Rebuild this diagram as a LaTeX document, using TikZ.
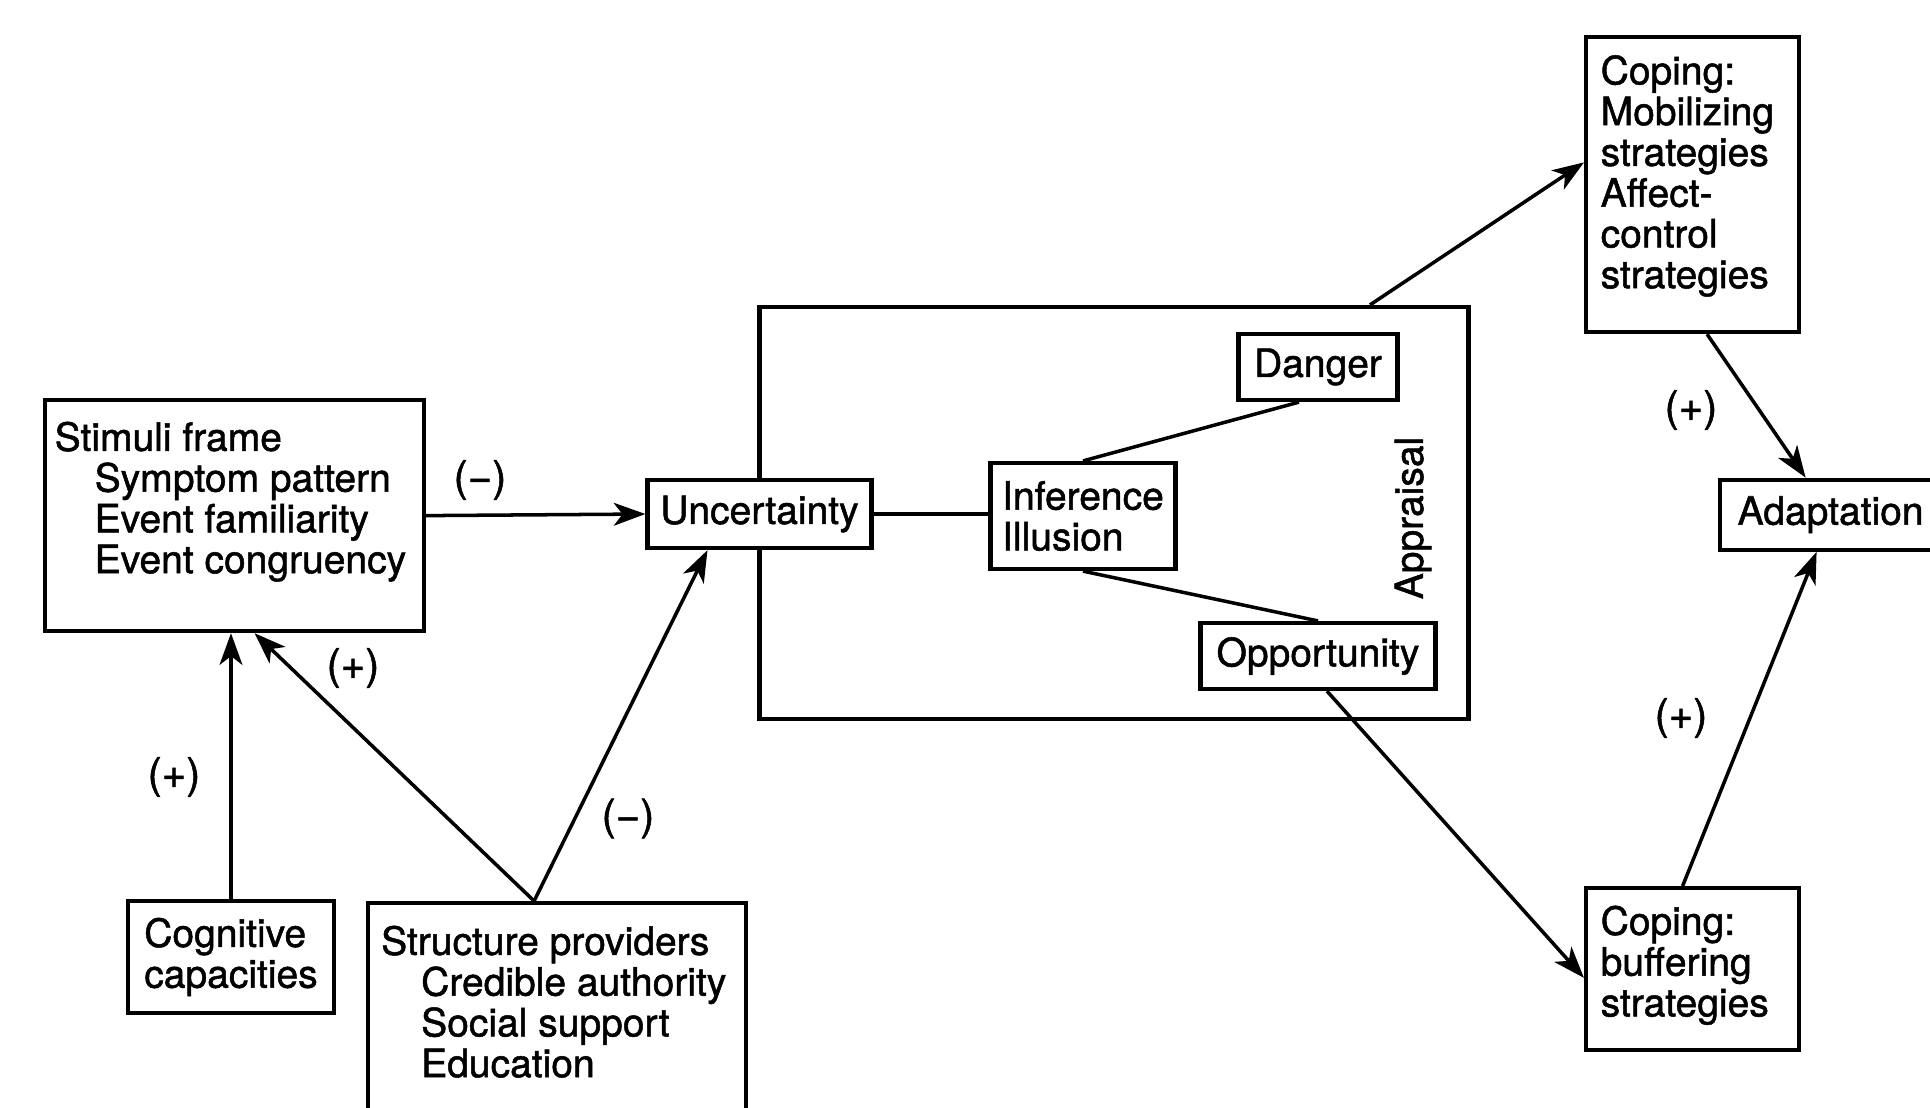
\documentclass[tikz,border=0pt]{standalone}
\usepackage{fontspec}
\setmainfont{TeX Gyre Heros}[FakeBold=1.3]
\usetikzlibrary{arrows.meta}

\tikzset{
    box/.style={draw, line width=1.2pt, fill=white, inner sep=0pt, align=left},
    boxtext/.style={anchor=north west, align=left, inner sep=0pt},
    conn/.style={line width=1pt},
    arr/.style={conn, -{Stealth[length=9pt, width=6.5pt, inset=2.5pt]}},
    sign/.style={font=\fontsize{12}{12}\selectfont}
}

\begin{document}
\begin{tikzpicture}[font=\fontsize{11.1}{11.6}\selectfont]
    \useasboundingbox (0, 0) rectangle (19.3, -11.07);

    % appraisal frame and its inner boxes
    \node [box, minimum width=7.09cm, minimum height=4.12cm] (appr) at (11.14, -5.13) {};
    \node [rotate=90] (apprtxt) at (14.13, -5.18) {Appraisal};
    \node [box, minimum width=2.24cm, minimum height=0.68cm] (unc) at (7.595, -5.14) {Uncertainty};
    \node [box, minimum width=1.85cm, minimum height=1.06cm] (infer) at (10.83, -5.16) {Inference\\Illusion};
    \node [box, minimum width=1.59cm, minimum height=0.66cm] (dang) at (13.18, -3.67) {Danger};
    \node [box, minimum width=2.35cm, minimum height=0.66cm] (oppo) at (13.18, -6.56) {Opportunity};

    \node [box, anchor=north west, minimum width=3.79cm, minimum height=2.31cm] (stim) at (0.43, -3.98) {};
    \node [boxtext] (stimtxt) at ([xshift=0.11cm, yshift=-0.23cm]stim.north west)
        {Stimuli frame\\\hspace*{0.4cm}Symptom pattern\\\hspace*{0.4cm}Event familiarity\\\hspace*{0.4cm}Event congruency};

    \node [box, minimum width=2.06cm, minimum height=1.12cm] (cogn) at (2.31, -9.57) {Cognitive\\capacities};

    \node [box, anchor=north west, minimum width=3.78cm, minimum height=2.6cm] (struct) at (3.66, -9.01) {};
    \node [boxtext] (structtxt) at ([xshift=0.145cm, yshift=-0.24cm]struct.north west)
        {Structure providers\\\hspace*{0.4cm}Credible authority\\\hspace*{0.4cm}Social support\\\hspace*{0.4cm}Education};

    \node [box, anchor=north west, minimum width=2.13cm, minimum height=2.955cm] (copm) at (15.84, -0.345) {};
    \node [boxtext] (copmtxt) at ([xshift=0.16cm, yshift=-0.20cm]copm.north west)
        {Coping:\\Mobilizing\\strategies\\Affect-\\control\\strategies};

    \node [box, anchor=north west, minimum width=2.13cm, minimum height=1.615cm] (copb) at (15.84, -8.86) {};
    \node [boxtext] (copbtxt) at ([xshift=0.16cm, yshift=-0.19cm]copb.north west)
        {Coping:\\buffering\\strategies};

    \node [box, anchor=north west, minimum width=2.21cm, minimum height=0.70cm] (adap) at (17.18, -4.776) {Adaptation};

    \coordinate (sp) at ([xshift=-0.23cm]struct.north);

    \draw [arr] (stim.east) to (unc.west);
    \draw [conn] (unc.east) to (unc.east -| infer.west);
    \draw [conn] (infer.north) to ([xshift=-0.19cm]dang.south);
    \draw [conn] (infer.south) to (oppo.north);
    \draw [arr] ([xshift=2.56cm]appr.north) to ([yshift=0.22cm]copm.west);
    \draw [arr] ([xshift=0.145cm]copm.south) to ([xshift=-0.25cm]adap.north);
    \draw [arr] ([xshift=0.09cm]oppo.south) to ([yshift=-0.09cm]copb.west);
    \draw [arr] ([xshift=-0.10cm]copb.north) to ([xshift=-0.14cm]adap.south);
    \draw [arr] (cogn.north) to (cogn.north |- stim.south);
    \draw [arr] (sp) to ([xshift=0.20cm]stim.south);
    \draw [arr] (sp) to ([xshift=-0.52cm]unc.south);

    \node [sign] (s1) at (4.80, -4.80) {(−)};
    \node [sign] (s2) at (16.91, -4.10) {(+)};
    \node [sign] (s3) at (16.81, -7.18) {(+)};
    \node [sign] (s4) at (1.74, -7.77) {(+)};
    \node [sign] (s5) at (3.53, -6.68) {(+)};
    \node [sign] (s6) at (6.28, -8.185) {(−)};

\end{tikzpicture}
\end{document}
